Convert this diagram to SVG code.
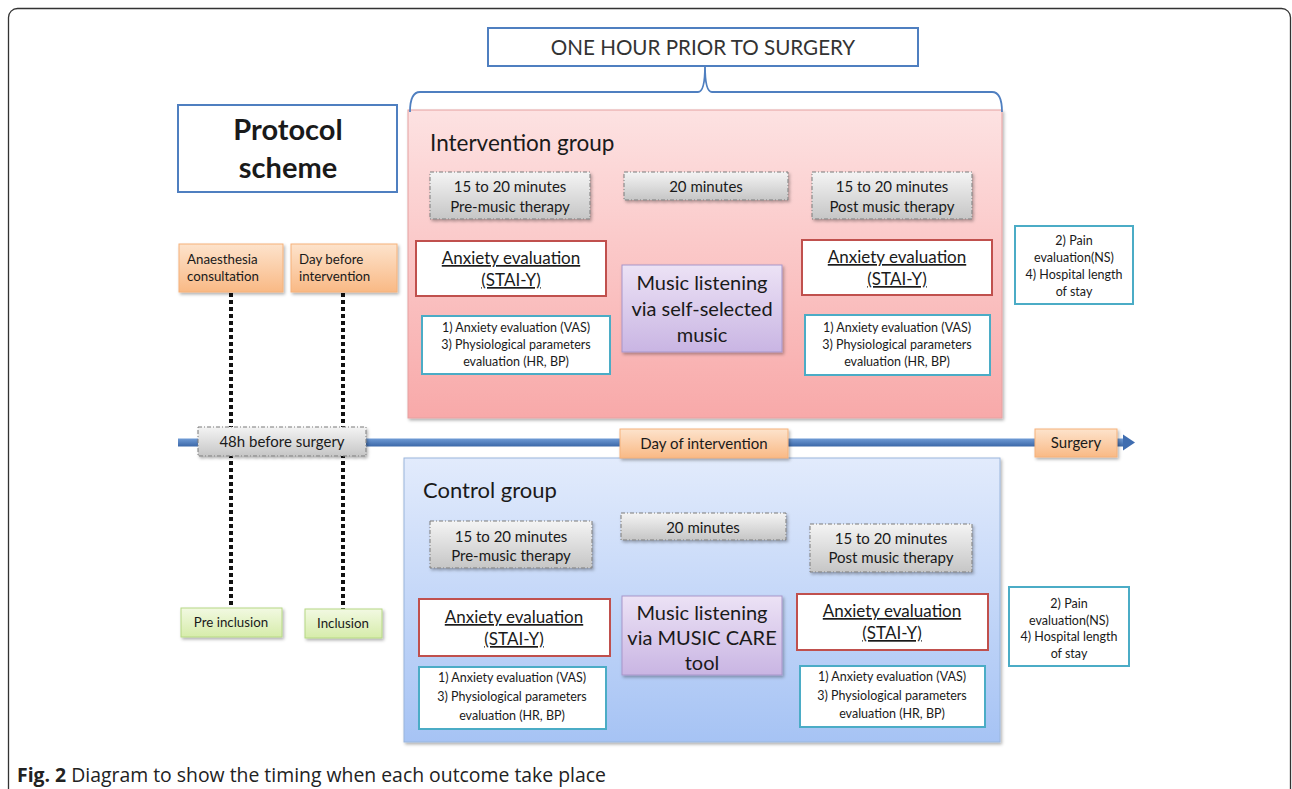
<svg xmlns="http://www.w3.org/2000/svg" width="1292" height="789" viewBox="0 0 1292 789">
<style>
text{font-family:Lato,"Liberation Sans",sans-serif;fill:#1a1a1a}
.c{text-anchor:middle}
.blue{fill:#fff;stroke:#4f7fc0;stroke-width:2}
.gray{fill:url(#gGray);stroke:#7a7a7a;stroke-width:1;stroke-dasharray:4 2 1 2}
.red{fill:#fff;stroke:#c0504d;stroke-width:2}
.cyan{fill:#fff;stroke:#4bacc6;stroke-width:2}
.purple{fill:url(#gPurple);stroke:#a795c9;stroke-width:1}
.orange{fill:url(#gOrange);stroke:#f5b27a;stroke-width:1}
.green{fill:url(#gGreen);stroke:#b6d884;stroke-width:1}
.t15{font-size:15px}
.t13{font-size:13.3px}
.t12{font-size:12.5px}
.t17{font-size:17px}
.t20{font-size:20px}
.ul{text-decoration:underline}
.dots{stroke:#111;stroke-width:4;stroke-dasharray:4 3;fill:none}
</style>
<defs>
<linearGradient id="gPink" x1="0" y1="0" x2="0" y2="1"><stop offset="0" stop-color="#fde2e2"/><stop offset="1" stop-color="#f8a9a9"/></linearGradient>
<linearGradient id="gBlue" x1="0" y1="0" x2="0" y2="1"><stop offset="0" stop-color="#e2ebfc"/><stop offset="1" stop-color="#a6c3f4"/></linearGradient>
<linearGradient id="gGray" x1="0" y1="0" x2="0" y2="1"><stop offset="0" stop-color="#f4f4f4"/><stop offset="1" stop-color="#c6c6c6"/></linearGradient>
<linearGradient id="gPurple" x1="0" y1="0" x2="0" y2="1"><stop offset="0" stop-color="#ece2f5"/><stop offset="1" stop-color="#c9b5e3"/></linearGradient>
<linearGradient id="gOrange" x1="0" y1="0" x2="0" y2="1"><stop offset="0" stop-color="#fde3cc"/><stop offset="1" stop-color="#f9b985"/></linearGradient>
<linearGradient id="gGreen" x1="0" y1="0" x2="0" y2="1"><stop offset="0" stop-color="#f2f9e2"/><stop offset="1" stop-color="#d6ecaa"/></linearGradient>
<linearGradient id="gLine" x1="0" y1="0" x2="0" y2="1"><stop offset="0" stop-color="#6f9bd6"/><stop offset="1" stop-color="#3c68a8"/></linearGradient>
<filter id="sh" x="-10%" y="-10%" width="120%" height="130%"><feDropShadow dx="1.5" dy="2" stdDeviation="1.5" flood-color="#000" flood-opacity="0.3"/></filter>
</defs>

<rect x="8.5" y="8.5" width="1282" height="800" rx="9" fill="#fff" stroke="#333" stroke-width="1.3"/>

<g id="group-boxes">
<rect id="intervention-bg" x="408" y="110" width="594" height="308" fill="url(#gPink)" stroke="#e6a0a0" stroke-width="1" filter="url(#sh)"/>
<rect id="control-bg" x="404" y="458" width="596" height="284" fill="url(#gBlue)" stroke="#9ab6dc" stroke-width="1" filter="url(#sh)"/>
</g>

<g id="connectors">
<path d="M410,112 Q410,92 420,92 L698,92 Q705,92 705,66 Q705,92 712,92 L992,92 Q1002,92 1002,112" fill="none" stroke="#4f7fc0" stroke-width="1.8"/>
<line class="dots" x1="231" y1="293" x2="231" y2="608"/>
<line class="dots" x1="343" y1="293" x2="343" y2="609"/>
<rect x="178" y="438.5" width="947" height="8" fill="url(#gLine)"/>
<path d="M1123,434.5 L1135,442.5 L1123,450.5 Z" fill="#3f6db0"/>
</g>

<g id="title"><rect class="blue" x="488" y="28" width="430" height="38"/><text class="c" x="703" y="55" style="font-size:20.6px;fill:#333">ONE HOUR PRIOR TO SURGERY</text></g>

<g id="protocol"><rect class="blue" x="178" y="105" width="219" height="87"/><text class="c" x="288" y="140" style="font-size:29px;font-weight:bold">Protocol</text><text class="c" x="288" y="178" style="font-size:29px;font-weight:bold">scheme</text></g>

<g id="anaesthesia"><rect class="orange" x="179" y="244" width="104" height="48" filter="url(#sh)"/><text class="t13" x="187" y="264">Anaesthesia</text><text class="t13" x="187" y="281">consultation</text></g>
<g id="daybefore"><rect class="orange" x="291" y="244" width="106" height="48" filter="url(#sh)"/><text class="t13" x="299" y="264">Day before</text><text class="t13" x="299" y="281">intervention</text></g>

<text x="430" y="151" style="font-size:22.5px">Intervention group</text>

<g id="i-pre"><rect class="gray" x="430" y="172" width="160" height="47" filter="url(#sh)"/><text class="c t15" x="510" y="192">15 to 20 minutes</text><text class="c t15" x="510" y="212">Pre-music therapy</text></g>
<g id="i-20"><rect class="gray" x="624" y="172" width="164" height="28" filter="url(#sh)"/><text class="c t15" x="706" y="192">20 minutes</text></g>
<g id="i-post"><rect class="gray" x="812" y="172" width="160" height="47" filter="url(#sh)"/><text class="c t15" x="892" y="192">15 to 20 minutes</text><text class="c t15" x="892" y="212">Post music therapy</text></g>

<g id="i-anx-l"><rect class="red" x="416" y="241" width="190" height="55"/><text class="c t17 ul" x="511" y="264">Anxiety evaluation</text><text class="c t17 ul" x="511" y="286">(STAI-Y)</text></g>
<g id="i-anx-r"><rect class="red" x="802" y="240" width="190" height="55"/><text class="c t17 ul" x="897" y="263">Anxiety evaluation</text><text class="c t17 ul" x="897" y="285">(STAI-Y)</text></g>
<g id="i-music"><rect class="purple" x="622" y="265" width="160" height="87" filter="url(#sh)"/><text class="c t20" x="702" y="290">Music listening</text><text class="c t20" x="702" y="316">via self-selected</text><text class="c t20" x="702" y="342">music</text></g>
<g id="i-vas-l"><rect class="cyan" x="422" y="316" width="188" height="58"/><text class="c t12" x="516" y="332">1) Anxiety evaluation (VAS)</text><text class="c t12" x="516" y="349">3) Physiological parameters</text><text class="c t12" x="516" y="366">evaluation (HR, BP)</text></g>
<g id="i-vas-r"><rect class="cyan" x="805" y="315" width="185" height="60"/><text class="c t12" x="897" y="332">1) Anxiety evaluation (VAS)</text><text class="c t12" x="897" y="349">3) Physiological parameters</text><text class="c t12" x="897" y="366">evaluation (HR, BP)</text></g>

<g id="i-pain"><rect class="cyan" x="1015" y="226" width="118" height="78"/><text class="c t12" x="1074" y="245">2) Pain</text><text class="c t12" x="1074" y="262">evaluation(NS)</text><text class="c t12" x="1074" y="279">4) Hospital length</text><text class="c t12" x="1074" y="296">of stay</text></g>

<g id="t48"><rect class="gray" x="198" y="427" width="168" height="29" filter="url(#sh)"/><text class="c t15" x="282" y="447">48h before surgery</text></g>
<g id="tday"><rect class="orange" x="620" y="429" width="168" height="29" filter="url(#sh)"/><text class="c t15" x="704" y="449">Day of intervention</text></g>
<g id="tsurg"><rect class="orange" x="1035" y="429" width="82" height="28" filter="url(#sh)"/><text class="c t15" x="1076" y="448">Surgery</text></g>

<text x="423" y="498" style="font-size:22px">Control group</text>

<g id="c-pre"><rect class="gray" x="430" y="521" width="162" height="47" filter="url(#sh)"/><text class="c t15" x="511" y="542">15 to 20 minutes</text><text class="c t15" x="511" y="561">Pre-music therapy</text></g>
<g id="c-20"><rect class="gray" x="621" y="513" width="165" height="27" filter="url(#sh)"/><text class="c t15" x="703" y="533">20 minutes</text></g>
<g id="c-post"><rect class="gray" x="810" y="524" width="162" height="48" filter="url(#sh)"/><text class="c t15" x="891" y="544">15 to 20 minutes</text><text class="c t15" x="891" y="563">Post music therapy</text></g>

<g id="c-anx-l"><rect class="red" x="419" y="599" width="191" height="57"/><text class="c t17 ul" x="514" y="623">Anxiety evaluation</text><text class="c t17 ul" x="514" y="645">(STAI-Y)</text></g>
<g id="c-anx-r"><rect class="red" x="797" y="594" width="191" height="56"/><text class="c t17 ul" x="892" y="617">Anxiety evaluation</text><text class="c t17 ul" x="892" y="639">(STAI-Y)</text></g>
<g id="c-music"><rect class="purple" x="622" y="596" width="160" height="79" filter="url(#sh)"/><text class="c t20" x="702" y="620">Music listening</text><text class="c t20" x="702" y="645">via MUSIC CARE</text><text class="c t20" x="702" y="670">tool</text></g>
<g id="c-vas-l"><rect class="cyan" x="419" y="667" width="187" height="62"/><text class="c t12" x="512" y="682">1) Anxiety evaluation (VAS)</text><text class="c t12" x="512" y="701">3) Physiological parameters</text><text class="c t12" x="512" y="720">evaluation (HR, BP)</text></g>
<g id="c-vas-r"><rect class="cyan" x="800" y="666" width="185" height="61"/><text class="c t12" x="892" y="681">1) Anxiety evaluation (VAS)</text><text class="c t12" x="892" y="700">3) Physiological parameters</text><text class="c t12" x="892" y="718">evaluation (HR, BP)</text></g>

<g id="c-pain"><rect class="cyan" x="1009" y="587" width="120" height="79"/><text class="c t12" x="1069" y="608">2) Pain</text><text class="c t12" x="1069" y="625">evaluation(NS)</text><text class="c t12" x="1069" y="641">4) Hospital length</text><text class="c t12" x="1069" y="658">of stay</text></g>

<g id="preinc"><rect class="green" x="181" y="608" width="101" height="29" filter="url(#sh)"/><text class="c t13" x="231" y="627">Pre inclusion</text></g>
<g id="inc"><rect class="green" x="305" y="609" width="77" height="29" filter="url(#sh)"/><text class="c t13" x="343" y="628">Inclusion</text></g>

<text x="17" y="782" style="font-family:'Open Sans','Liberation Sans',sans-serif;font-size:19.4px;fill:#222"><tspan font-weight="bold">Fig. 2</tspan> Diagram to show the timing when each outcome take place</text>
</svg>
